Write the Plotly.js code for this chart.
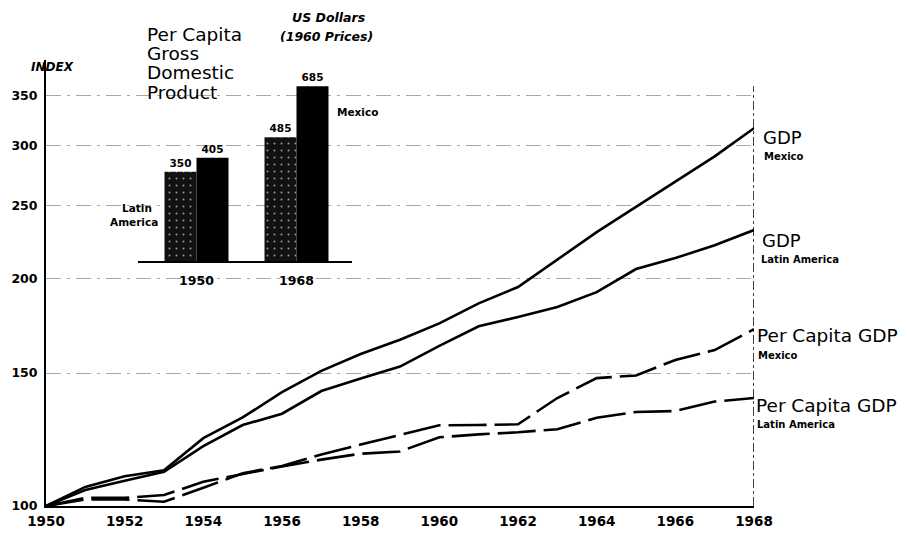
<!DOCTYPE html>
<html>
<head>
<meta charset="utf-8">
<script src="https://cdn.plot.ly/plotly-3.0.1.min.js"></script>
<style>html,body{margin:0;padding:0;background:#fff;}#chart{width:908px;height:539px;}</style>
</head>
<body>
<div id="chart"></div>
<script>
// ---- data ----
const years = [1950,1951,1952,1953,1954,1955,1956,1957,1958,1959,1960,1961,1962,1963,1964,1965,1966,1967,1968];
const gdpMexico = [100,106,109.5,111.5,123,131,141.5,151,159,166,174.5,185.5,195,212,230.5,249,269,290.5,316.5];
const gdpLatinAmerica = [100,105,108,111,120,128,132.5,142,147.5,153,163,173,178,183.5,192,206,213,221.5,232];
const perCapitaMexico = [100,102,102,101.3,105.7,110.5,113,117,120.6,124.2,127.9,128,128.3,139,147.7,148.9,156.1,160.9,171.5];
const perCapitaLatinAmerica = [100,102.5,102.5,103.4,107.7,110.3,112.8,115.2,117.3,118.1,123.3,124.4,125.2,126.4,130.9,133.2,133.6,137.5,139];
const yTickValues = [100,150,200,250,300,350];
const xTickValues = [1950,1952,1954,1956,1958,1960,1962,1964,1966,1968];
const barYears = ['1950','1968'];
const barLatinAmerica = [350,485];
const barMexico = [405,685];

// ---- layout helpers (pixel -> paper) ----
const L = 46, R = 154, T = 60, B = 33, W = 908, H = 539;
const PW = W - L - R, PH = H - T - B;
const px = x => (x - L) / PW;
const py = y => (H - B - y) / PH;

const FONT = '"DejaVu Sans", Lato, sans-serif';
const lineCommon = {mode:'lines', xaxis:'x', yaxis:'y', cliponaxis:false, hoverinfo:'skip'};

const traces = [
  Object.assign({x: years, y: gdpMexico, line:{color:'#000', width:2.6}}, lineCommon),
  Object.assign({x: years, y: gdpLatinAmerica, line:{color:'#000', width:2.6}}, lineCommon),
  Object.assign({x: years, y: perCapitaMexico, line:{color:'#000', width:2.6, dash:'38px,8px'}}, lineCommon),
  Object.assign({x: years, y: perCapitaLatinAmerica, line:{color:'#000', width:2.6, dash:'38px,8px'}}, lineCommon),
  {type:'bar', x: barYears, y: barLatinAmerica, xaxis:'x2', yaxis:'y2',
   marker:{color:'#111', line:{width:0}, pattern:{shape:'.', fgcolor:'#9a9a9a', bgcolor:'#111', size:7, solidity:0.06}},
   text: barLatinAmerica.map(String), textposition:'outside', cliponaxis:false,
   textfont:{family:FONT, size:10.5, color:'#000', weight:'bold'}, hoverinfo:'skip'},
  {type:'bar', x: barYears, y: barMexico, xaxis:'x2', yaxis:'y2',
   marker:{color:'#000', line:{width:0}},
   text: barMexico.map(String), textposition:'outside', cliponaxis:false,
   textfont:{family:FONT, size:10.5, color:'#000', weight:'bold'}, hoverinfo:'skip'}
];

const f = (s, w, st) => ({family:FONT, size:s, color:'#000', weight: w || 'normal', style: st || 'normal'});
function ann(text, x, y, font, opts) {
  return Object.assign({text: text, x: px(x), y: py(y), xref:'paper', yref:'paper',
    showarrow:false, xanchor:'left', yanchor:'middle', font: font}, opts || {});
}

const annotations = [
  ann('INDEX', 52, 67, f(12,'bold','italic'), {xanchor:'center'}),
  ann('GDP', 761, 138, f(18)),
  ann('Mexico', 762, 156, f(10,'bold')),
  ann('GDP', 760, 240, f(18)),
  ann('Latin America', 759, 259, f(10,'bold')),
  ann('Per Capita GDP', 755, 335, f(18.5)),
  ann('Mexico', 756, 356, f(10,'bold')),
  ann('Per Capita GDP', 754, 405, f(18.5)),
  ann('Latin America', 755, 424, f(10,'bold')),
  ann('Per Capita', 145, 34, f(18.5)),
  ann('Gross', 145, 54, f(18.5)),
  ann('Domestic', 145, 73, f(18.5)),
  ann('Product', 145, 92, f(18.5)),
  ann('US Dollars', 328, 17, f(12.5,'bold','italic'), {xanchor:'center'}),
  ann('(1960 Prices)', 326, 36, f(12.5,'bold','italic'), {xanchor:'center'}),
  ann('Latin', 137, 208, f(10.5,'bold'), {xanchor:'center'}),
  ann('America', 134, 222, f(10.5,'bold'), {xanchor:'center'}),
  ann('Mexico', 357, 112, f(10.5,'bold'), {xanchor:'center'})
];

const layout = {
  width: W, height: H,
  margin: {l:L, r:R, t:T, b:B, pad:0},
  paper_bgcolor:'#fff', plot_bgcolor:'rgba(0,0,0,0)',
  showlegend:false,
  bargap:0.36, bargroupgap:0, barmode:'group',
  font:{family:FONT, color:'#000'},
  xaxis:{range:[1950,1968], tickvals:xTickValues, showline:true, linecolor:'#000', linewidth:2,
         showgrid:false, zeroline:false, ticks:'', ticklabelstandoff:2,
         tickfont:{family:FONT, size:13.5, color:'#000', weight:'bold'}, fixedrange:true},
  yaxis:{type:'log', range:[2, 2 + PH/755], tickvals:yTickValues, ticktext:yTickValues.map(String),
         showline:true, linecolor:'#000', linewidth:2, showgrid:true, gridcolor:'#a8a8a8', gridwidth:1,
         griddash:'longdashdot', zeroline:false, ticks:'', ticklabelstandoff:4,
         tickfont:{family:FONT, size:12.5, color:'#000', weight:'bold'}, fixedrange:true},
  xaxis2:{domain:[px(138), px(352)], anchor:'y2', type:'category', range:[-0.585,1.555],
          showline:true, linecolor:'#000', linewidth:2, showgrid:false, zeroline:false, ticks:'',
          ticklabelstandoff:7, tickfont:{family:FONT, size:12.5, color:'#000', weight:'bold'}, fixedrange:true},
  yaxis2:{domain:[py(261), py(70)], anchor:'x2', range:[0, (261-70)/0.255], visible:false, fixedrange:true},
  shapes:[
    {type:'line', xref:'x', yref:'y', x0:1968, x1:1968, y0:100, y1:360,
     line:{color:'#000', width:1.5, dash:'dashdot'}}
  ],
  annotations: annotations
};

Plotly.newPlot('chart', traces, layout, {staticPlot:true, displayModeBar:false});
</script>
</body>
</html>
